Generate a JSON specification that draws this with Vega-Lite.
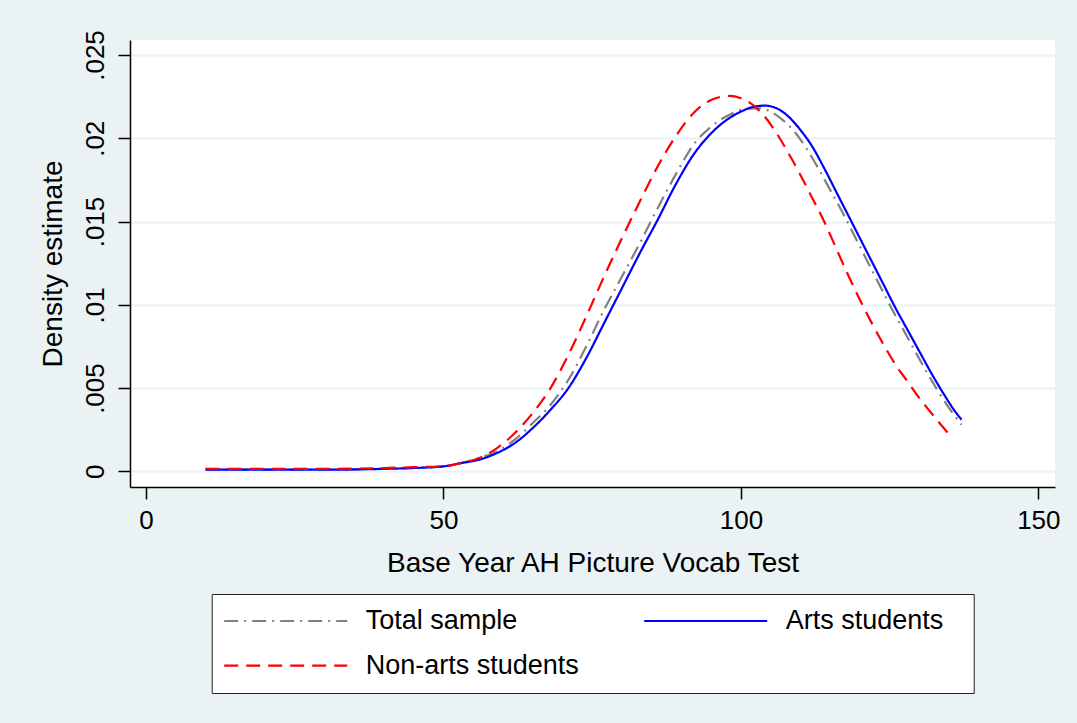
{
  "$schema": "https://vega.github.io/schema/vega-lite/v6.json",
  "width": 925,
  "height": 447,
  "autosize": {"type": "none"},
  "padding": {"left": 130, "top": 40, "right": 22, "bottom": 236},
  "background": "#EAF2F3",
  "config": {
    "view": {"fill": "white", "stroke": null},
    "font": "Liberation Sans",
    "axis": {
      "labelFont": "Liberation Sans",
      "titleFont": "Liberation Sans",
      "labelFontSize": 26,
      "titleFontSize": 28,
      "titleFontWeight": "normal",
      "labelColor": "black",
      "titleColor": "black",
      "domainColor": "black",
      "domainWidth": 1.5,
      "tickColor": "black",
      "tickWidth": 1.5,
      "tickSize": 12
    },
    "legend": {
      "orient": "none",
      "legendX": 81.7,
      "legendY": 554,
      "columns": 2,
      "direction": "horizontal",
      "fillColor": "white",
      "strokeColor": "#222222",
      "padding": 11,
      "symbolType": "stroke",
      "symbolSize": 15129,
      "symbolStrokeWidth": 2.2,
      "clipHeight": 32,
      "rowPadding": 12.7,
      "columnPadding": 63,
      "labelOffset": 17,
      "labelFont": "Liberation Sans",
      "labelFontSize": 27,
      "labelColor": "black",
      "labelLimit": 400,
      "titleOrient": "right",
      "titleFontSize": 10,
      "titlePadding": 12,
      "titleColor": "white"
    }
  },
  "data": {
    "values": [
      {"series": "Total sample", "x": 10, "y": 0.0001},
      {"series": "Total sample", "x": 20, "y": 0.0001},
      {"series": "Total sample", "x": 30, "y": 0.0001},
      {"series": "Total sample", "x": 40, "y": 0.00015},
      {"series": "Total sample", "x": 45, "y": 0.0002},
      {"series": "Total sample", "x": 50, "y": 0.0003},
      {"series": "Total sample", "x": 53, "y": 0.0005},
      {"series": "Total sample", "x": 56, "y": 0.0008},
      {"series": "Total sample", "x": 59, "y": 0.0012},
      {"series": "Total sample", "x": 62, "y": 0.0019},
      {"series": "Total sample", "x": 65, "y": 0.0029},
      {"series": "Total sample", "x": 68, "y": 0.0040},
      {"series": "Total sample", "x": 71, "y": 0.0055},
      {"series": "Total sample", "x": 74, "y": 0.0075},
      {"series": "Total sample", "x": 77, "y": 0.0097},
      {"series": "Total sample", "x": 80, "y": 0.0117},
      {"series": "Total sample", "x": 83, "y": 0.0137},
      {"series": "Total sample", "x": 86, "y": 0.0158},
      {"series": "Total sample", "x": 89, "y": 0.0178},
      {"series": "Total sample", "x": 92, "y": 0.0196},
      {"series": "Total sample", "x": 95, "y": 0.0207},
      {"series": "Total sample", "x": 98, "y": 0.0214},
      {"series": "Total sample", "x": 101, "y": 0.02178},
      {"series": "Total sample", "x": 103, "y": 0.0218},
      {"series": "Total sample", "x": 105, "y": 0.0216},
      {"series": "Total sample", "x": 107, "y": 0.0211},
      {"series": "Total sample", "x": 109, "y": 0.0204},
      {"series": "Total sample", "x": 111, "y": 0.0194},
      {"series": "Total sample", "x": 113, "y": 0.0182},
      {"series": "Total sample", "x": 115, "y": 0.0169},
      {"series": "Total sample", "x": 117, "y": 0.0156},
      {"series": "Total sample", "x": 119, "y": 0.0142},
      {"series": "Total sample", "x": 121, "y": 0.0128},
      {"series": "Total sample", "x": 123, "y": 0.0114},
      {"series": "Total sample", "x": 125, "y": 0.0100},
      {"series": "Total sample", "x": 127, "y": 0.0087},
      {"series": "Total sample", "x": 129, "y": 0.0074},
      {"series": "Total sample", "x": 131, "y": 0.0061},
      {"series": "Total sample", "x": 133, "y": 0.0049},
      {"series": "Total sample", "x": 135, "y": 0.0038},
      {"series": "Total sample", "x": 137.1, "y": 0.0028},

      {"series": "Arts students", "x": 10, "y": 0.0001},
      {"series": "Arts students", "x": 20, "y": 0.0001},
      {"series": "Arts students", "x": 30, "y": 0.0001},
      {"series": "Arts students", "x": 40, "y": 0.00015},
      {"series": "Arts students", "x": 45, "y": 0.0002},
      {"series": "Arts students", "x": 50, "y": 0.0003},
      {"series": "Arts students", "x": 53, "y": 0.0005},
      {"series": "Arts students", "x": 56, "y": 0.0007},
      {"series": "Arts students", "x": 59, "y": 0.0011},
      {"series": "Arts students", "x": 62, "y": 0.0017},
      {"series": "Arts students", "x": 65, "y": 0.0026},
      {"series": "Arts students", "x": 68, "y": 0.0037},
      {"series": "Arts students", "x": 71, "y": 0.0050},
      {"series": "Arts students", "x": 74, "y": 0.0068},
      {"series": "Arts students", "x": 77, "y": 0.0089},
      {"series": "Arts students", "x": 80, "y": 0.0110},
      {"series": "Arts students", "x": 83, "y": 0.0131},
      {"series": "Arts students", "x": 86, "y": 0.0151},
      {"series": "Arts students", "x": 89, "y": 0.0172},
      {"series": "Arts students", "x": 92, "y": 0.0190},
      {"series": "Arts students", "x": 95, "y": 0.0203},
      {"series": "Arts students", "x": 98, "y": 0.0212},
      {"series": "Arts students", "x": 100, "y": 0.0216},
      {"series": "Arts students", "x": 102, "y": 0.02188},
      {"series": "Arts students", "x": 104, "y": 0.02196},
      {"series": "Arts students", "x": 106, "y": 0.0218},
      {"series": "Arts students", "x": 108, "y": 0.0213},
      {"series": "Arts students", "x": 110, "y": 0.0205},
      {"series": "Arts students", "x": 112, "y": 0.0195},
      {"series": "Arts students", "x": 114, "y": 0.0182},
      {"series": "Arts students", "x": 116, "y": 0.0168},
      {"series": "Arts students", "x": 118, "y": 0.0154},
      {"series": "Arts students", "x": 120, "y": 0.0140},
      {"series": "Arts students", "x": 122, "y": 0.0126},
      {"series": "Arts students", "x": 124, "y": 0.0112},
      {"series": "Arts students", "x": 126, "y": 0.0098},
      {"series": "Arts students", "x": 128, "y": 0.0085},
      {"series": "Arts students", "x": 130, "y": 0.0072},
      {"series": "Arts students", "x": 132, "y": 0.0059},
      {"series": "Arts students", "x": 134, "y": 0.0047},
      {"series": "Arts students", "x": 136, "y": 0.0036},
      {"series": "Arts students", "x": 137.1, "y": 0.0031},

      {"series": "Non-arts students", "x": 10, "y": 0.00015},
      {"series": "Non-arts students", "x": 20, "y": 0.00015},
      {"series": "Non-arts students", "x": 30, "y": 0.00015},
      {"series": "Non-arts students", "x": 40, "y": 0.0002},
      {"series": "Non-arts students", "x": 45, "y": 0.00025},
      {"series": "Non-arts students", "x": 50, "y": 0.0003},
      {"series": "Non-arts students", "x": 53, "y": 0.0005},
      {"series": "Non-arts students", "x": 56, "y": 0.0008},
      {"series": "Non-arts students", "x": 59, "y": 0.0014},
      {"series": "Non-arts students", "x": 62, "y": 0.0023},
      {"series": "Non-arts students", "x": 65, "y": 0.0035},
      {"series": "Non-arts students", "x": 68, "y": 0.0050},
      {"series": "Non-arts students", "x": 71, "y": 0.0070},
      {"series": "Non-arts students", "x": 74, "y": 0.0093},
      {"series": "Non-arts students", "x": 77, "y": 0.0117},
      {"series": "Non-arts students", "x": 80, "y": 0.0140},
      {"series": "Non-arts students", "x": 83, "y": 0.0162},
      {"series": "Non-arts students", "x": 86, "y": 0.0183},
      {"series": "Non-arts students", "x": 89, "y": 0.0201},
      {"series": "Non-arts students", "x": 92, "y": 0.0215},
      {"series": "Non-arts students", "x": 95, "y": 0.0223},
      {"series": "Non-arts students", "x": 98, "y": 0.02254},
      {"series": "Non-arts students", "x": 100, "y": 0.0224},
      {"series": "Non-arts students", "x": 102, "y": 0.0220},
      {"series": "Non-arts students", "x": 104, "y": 0.0213},
      {"series": "Non-arts students", "x": 106, "y": 0.0203},
      {"series": "Non-arts students", "x": 108, "y": 0.0191},
      {"series": "Non-arts students", "x": 110, "y": 0.0178},
      {"series": "Non-arts students", "x": 112, "y": 0.0164},
      {"series": "Non-arts students", "x": 114, "y": 0.0150},
      {"series": "Non-arts students", "x": 116, "y": 0.0134},
      {"series": "Non-arts students", "x": 118, "y": 0.0118},
      {"series": "Non-arts students", "x": 120, "y": 0.0103},
      {"series": "Non-arts students", "x": 122, "y": 0.0089},
      {"series": "Non-arts students", "x": 124, "y": 0.0076},
      {"series": "Non-arts students", "x": 126, "y": 0.0064},
      {"series": "Non-arts students", "x": 128, "y": 0.0054},
      {"series": "Non-arts students", "x": 130, "y": 0.0044},
      {"series": "Non-arts students", "x": 132, "y": 0.0035},
      {"series": "Non-arts students", "x": 134.8, "y": 0.0023}
    ]
  },
  "mark": {"type": "line", "strokeWidth": 2.2, "interpolate": "monotone"},
  "encoding": {
    "x": {
      "field": "x",
      "type": "quantitative",
      "title": "Base Year AH Picture Vocab Test",
      "scale": {"domain": [-2.7, 152.8], "nice": false, "zero": false},
      "axis": {
        "values": [0, 50, 100, 150],
        "grid": false,
        "labelPadding": 8,
        "titlePadding": 16
      }
    },
    "y": {
      "field": "y",
      "type": "quantitative",
      "title": "Density estimate",
      "scale": {"domain": [-0.00094, 0.0259], "nice": false, "zero": false},
      "axis": {
        "values": [0, 0.005, 0.01, 0.015, 0.02, 0.025],
        "labelExpr": "datum.value === 0 ? '0' : substring(format(datum.value, '.3~f'), 1)",
        "labelAngle": -90,
        "labelAlign": "center",
        "labelBaseline": "bottom",
        "labelPadding": 10,
        "grid": true,
        "gridColor": "#EAF2F3",
        "gridWidth": 2,
        "titlePadding": 15
      }
    },
    "color": {
      "field": "series",
      "type": "nominal",
      "scale": {
        "domain": ["Total sample", "Arts students", "Non-arts students"],
        "range": ["#808080", "#0000FF", "#FF0000"]
      },
      "legend": {"title": "\u2800"}
    },
    "strokeDash": {
      "field": "series",
      "type": "nominal",
      "scale": {
        "domain": ["Total sample", "Arts students", "Non-arts students"],
        "range": [[14, 6, 2, 6], [1, 0], [14, 8]]
      },
      "legend": {"title": "\u2800"}
    }
  }
}
